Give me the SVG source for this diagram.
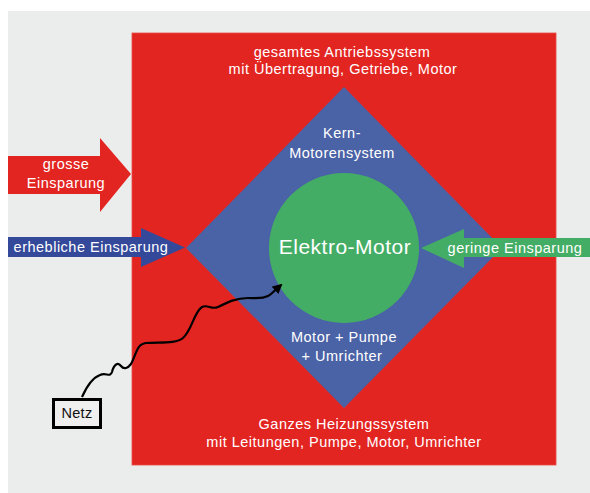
<svg xmlns="http://www.w3.org/2000/svg" width="590" height="493" viewBox="0 0 590 493">
<defs>
<style>
.t{font-family:"Liberation Sans",Arial,sans-serif;font-size:14.5px;fill:#ffffff;letter-spacing:0.5px;text-anchor:middle}
.big{font-size:21px}
.blk{fill:#111111;letter-spacing:0.3px}
</style>
<marker id="ah" markerWidth="10" markerHeight="10" refX="8" refY="5" orient="auto" markerUnits="userSpaceOnUse">
<path d="M0,0 L10,5 L0,10 Z" fill="#000"/>
</marker>
</defs>
<rect x="0" y="0" width="590" height="493" fill="#ffffff"/>
<rect x="8" y="11" width="582" height="482" fill="#EBECEC"/>
<g id="antrieb">
<rect x="132" y="33" width="424" height="432" fill="#E32522" stroke="#E84A45" stroke-width="0.8"/>
<text class="t" x="342" y="57">gesamtes Antriebssystem</text>
<text class="t" x="343" y="74">mit Übertragung, Getriebe, Motor</text>
<text class="t" x="344" y="429">Ganzes Heizungssystem</text>
<text class="t" x="344" y="447">mit Leitungen, Pumpe, Motor, Umrichter</text>
</g>
<g id="kern">
<polygon points="344,87 502,248 344,408 186,248" fill="#4A62A6"/>
<text class="t" x="342" y="138">Kern-</text>
<text class="t" x="342" y="158">Motorensystem</text>
<text class="t" x="344" y="342">Motor + Pumpe</text>
<text class="t" x="342" y="361">+ Umrichter</text>
</g>
<g id="motor">
<circle cx="344" cy="248" r="75" fill="#44AD65"/>
<text class="t big" x="345" y="254">Elektro-Motor</text>
</g>
<g id="grosse">
<polygon points="8,156 100,156 100,138 131,174 100,212 100,194 8,194" fill="#E32522"/>
<text class="t" x="66" y="169">grosse</text>
<text class="t" x="66" y="188">Einsparung</text>
</g>
<g id="erheblich">
<polygon points="8,237 141,237 141,228 185,247.5 141,267 141,257 8,257" fill="#34499A"/>
<text class="t" x="91" y="252">erhebliche Einsparung</text>
</g>
<g id="gering">
<polygon points="590,238 464,238 464,229 421,248 464,268 464,257 590,257" fill="#44AD65"/>
<text class="t" x="515" y="253">geringe Einsparung</text>
</g>
<g id="netz">
<rect x="53.5" y="399.5" width="47" height="28" fill="#EFEFEF" stroke="#000" stroke-width="3"/>
<text class="t blk" x="77" y="418">Netz</text>
</g>
<g id="connectors">
<path d="M 82 397 C 86 388, 92 378, 100 375 C 106 372, 110 378, 112 372 C 114 364, 118 362, 121 366 C 124 370, 128 368, 131 364 C 136 356, 136 344, 146 343 C 160 342, 176 344, 183 338 C 192 330, 194 312, 202 307 C 208 304, 211 310, 218 307 C 228 302, 236 298, 248 298 C 258 298, 266 299, 271 294 L 281 285" fill="none" stroke="#000" stroke-width="2.2" marker-end="url(#ah)"/>
</g>
</svg>
